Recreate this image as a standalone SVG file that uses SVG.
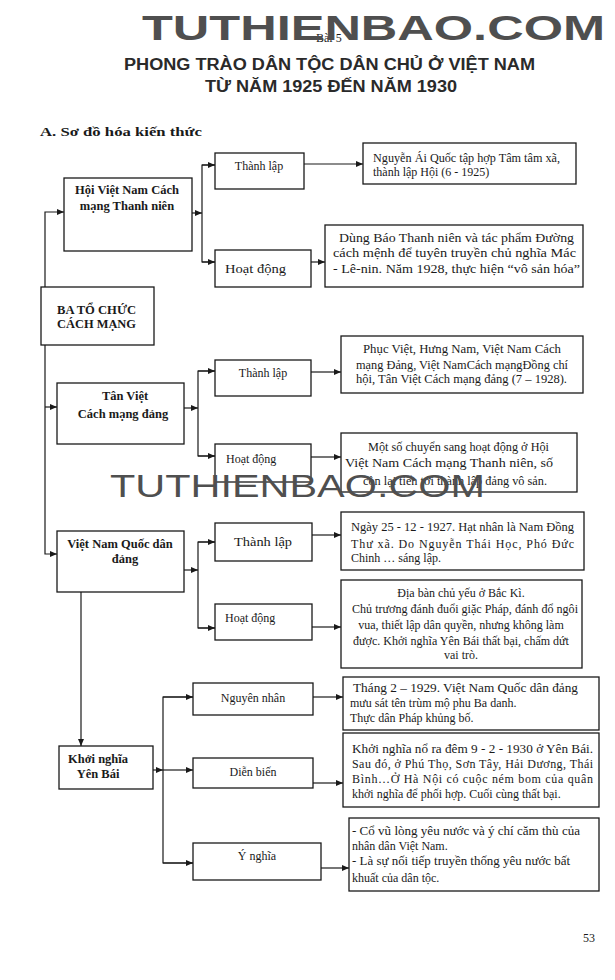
<svg xmlns="http://www.w3.org/2000/svg" width="615" height="980" viewBox="0 0 615 980">
<defs>
<marker id="ah" markerWidth="8" markerHeight="8" refX="7" refY="4" orient="auto" markerUnits="userSpaceOnUse">
<path d="M0,1 L7,4 L0,7 Z" fill="#1a1a1a"/>
</marker>
<style>
.bx{fill:#fff;stroke:#1a1a1a;stroke-width:1.3}
.ln{fill:none;stroke:#1a1a1a;stroke-width:1.2}
.ar{fill:none;stroke:#1a1a1a;stroke-width:1.2;marker-end:url(#ah)}
.t{font-family:"Liberation Serif","Times New Roman",serif;font-size:12px;fill:#1a1a1a}
.tb{font-family:"Liberation Serif","Times New Roman",serif;font-size:12.5px;font-weight:bold;fill:#1a1a1a}
.c{text-anchor:middle}
.wm{font-family:"Liberation Sans",Arial,sans-serif;fill:#4f4f4f}
.ttl{font-family:"Liberation Sans",Arial,sans-serif;font-weight:bold;font-size:16px;fill:#2a2a2a}
</style>
</defs>
<rect width="615" height="980" fill="#fff"/>

<g id="header">
<text x="316" y="42" class="t" font-size="9">Bài 5</text>
<text x="142" y="40" class="wm" font-size="35" font-weight="bold" textLength="463" lengthAdjust="spacingAndGlyphs">TUTHIENBAO.COM</text>
<text x="124" y="70" class="ttl" textLength="411" lengthAdjust="spacingAndGlyphs">PHONG TRÀO DÂN TỘC DÂN CHỦ Ở VIỆT NAM</text>
<text x="205" y="92" class="ttl" textLength="252" lengthAdjust="spacingAndGlyphs">TỪ NĂM 1925 ĐẾN NĂM 1930</text>
<text x="40" y="136" class="tb" font-size="15.5" textLength="162" lengthAdjust="spacingAndGlyphs">A. Sơ đồ hóa kiến thức</text>
</g>

<g id="connectors">
<polyline class="ar" points="45,287 45,212 64,212"/>
<line class="ar" x1="45" y1="407" x2="57" y2="407"/>
<polyline class="ar" points="45,345 45,554 57,554"/>
<line class="ar" x1="192" y1="213" x2="202" y2="213"/>
<polyline class="ln" points="215,165 202,165 202,262 215,262"/>
<line class="ar" x1="202" y1="165" x2="215" y2="165"/>
<line class="ar" x1="202" y1="262" x2="215" y2="262"/>
<line class="ar" x1="304" y1="164" x2="363" y2="164"/>
<line class="ar" x1="311" y1="262" x2="325" y2="262"/>
<line class="ar" x1="184" y1="408" x2="198" y2="408"/>
<polyline class="ln" points="215,371 198,371 198,456 215,456"/>
<line class="ar" x1="198" y1="371" x2="215" y2="371"/>
<line class="ar" x1="198" y1="456" x2="215" y2="456"/>
<line class="ar" x1="311" y1="372" x2="341" y2="372"/>
<line class="ar" x1="311" y1="457" x2="341" y2="457"/>
<line class="ar" x1="184" y1="570" x2="198" y2="570"/>
<polyline class="ln" points="215,542 198,542 198,628 215,628"/>
<line class="ar" x1="198" y1="542" x2="215" y2="542"/>
<line class="ar" x1="198" y1="628" x2="215" y2="628"/>
<line class="ar" x1="312" y1="535" x2="341" y2="535"/>
<line class="ar" x1="312" y1="627" x2="341" y2="627"/>
<line class="ar" x1="81" y1="592" x2="81" y2="746"/>
<line class="ar" x1="153" y1="770" x2="163" y2="770"/>
<polyline class="ln" points="193,697 163,697 163,863 193,863"/>
<line class="ar" x1="163" y1="697" x2="193" y2="697"/>
<line class="ar" x1="163" y1="770" x2="193" y2="770"/>
<line class="ar" x1="163" y1="863" x2="193" y2="863"/>
<line class="ar" x1="313" y1="697" x2="343" y2="697"/>
<line class="ar" x1="313" y1="783" x2="343" y2="783"/>
<line class="ar" x1="321" y1="868" x2="349" y2="868"/>
</g>

<g id="ba-to-chuc">
<rect class="bx" x="41" y="287" width="113" height="58"/>
<text x="57" y="314" class="tb" font-size="12" textLength="79" lengthAdjust="spacingAndGlyphs">BA TỔ CHỨC</text>
<text x="57" y="328" class="tb" font-size="12" textLength="79" lengthAdjust="spacingAndGlyphs">CÁCH MẠNG</text>
</g>

<g id="hoi-vn">
<rect class="bx" x="64" y="178" width="128" height="73"/>
<text x="127" y="194" class="tb c">Hội Việt Nam Cách</text>
<text x="127" y="210" class="tb c">mạng Thanh niên</text>
</g>
<g id="hoi-thanhlap">
<rect class="bx" x="215" y="153" width="89" height="36"/>
<text x="259" y="170" class="t c">Thành lập</text>
</g>
<g id="hoi-hoatdong">
<rect class="bx" x="215" y="250" width="96" height="37"/>
<text x="225" y="273" class="t" font-size="16" textLength="61" lengthAdjust="spacingAndGlyphs">Hoạt động</text>
</g>
<g id="hoi-tl-detail">
<rect class="bx" x="363" y="143" width="213" height="41"/>
<text x="373" y="162" class="t" textLength="187" lengthAdjust="spacingAndGlyphs">Nguyễn Ái Quốc tập hợp Tâm tâm xã,</text>
<text x="373" y="176" class="t">thành lập Hội (6 - 1925)</text>
</g>
<g id="hoi-hd-detail">
<rect class="bx" x="325" y="225" width="258" height="62"/>
<text x="339" y="242" class="t" font-size="13" textLength="235" lengthAdjust="spacingAndGlyphs">Dùng Báo Thanh niên và tác phẩm Đường</text>
<text x="333" y="257" class="t" font-size="13" textLength="243" lengthAdjust="spacingAndGlyphs">cách mệnh để tuyên truyền chủ nghĩa Mác</text>
<text x="333" y="273" class="t" font-size="13" textLength="247" lengthAdjust="spacingAndGlyphs">- Lê-nin. Năm 1928, thực hiện “vô sản hóa”</text>
</g>

<g id="tan-viet">
<rect class="bx" x="57" y="383" width="127" height="61"/>
<text x="125" y="400" class="tb c">Tân Việt</text>
<text x="123" y="418" class="tb c">Cách mạng đảng</text>
</g>
<g id="tv-thanhlap">
<rect class="bx" x="215" y="360" width="96" height="36"/>
<text x="263" y="377" class="t c">Thành lập</text>
</g>
<g id="tv-hoatdong">
<rect class="bx" x="215" y="444" width="96" height="38"/>
<text x="226" y="463" class="t">Hoạt động</text>
</g>
<g id="tv-tl-detail">
<rect class="bx" x="341" y="336" width="242" height="57"/>
<text x="363" y="353" class="t" font-size="11.5" textLength="198" lengthAdjust="spacingAndGlyphs">Phục Việt, Hưng Nam, Việt  Nam  Cách</text>
<text x="356" y="369" class="t" font-size="11.5" textLength="212" lengthAdjust="spacingAndGlyphs">mạng Đảng, Việt NamCách mạngĐồng chí</text>
<text x="356" y="383" class="t" font-size="11.5" textLength="211" lengthAdjust="spacingAndGlyphs">hội, Tân Việt Cách mạng đảng (7 – 1928).</text>
</g>
<g id="tv-hd-detail">
<rect class="bx" x="341" y="433" width="236" height="59"/>
<text x="368" y="451" class="t" textLength="181" lengthAdjust="spacingAndGlyphs">Một số chuyển sang hoạt động ở Hội</text>
<text x="345" y="467" class="t" font-size="13" textLength="208" lengthAdjust="spacingAndGlyphs">Việt Nam Cách mạng Thanh niên, số</text>
<text x="363" y="485" class="t" font-size="11.5" textLength="184" lengthAdjust="spacingAndGlyphs">còn lại tiến tới thành lập đảng vô sản.</text>
</g>

<g id="vnqdd">
<rect class="bx" x="57" y="531" width="127" height="61"/>
<text x="120" y="548" class="tb c">Việt Nam Quốc dân</text>
<text x="125" y="563" class="tb c">đảng</text>
</g>
<g id="qd-thanhlap">
<rect class="bx" x="215" y="523" width="97" height="38"/>
<text x="263" y="546" class="t c" font-size="16" textLength="58" lengthAdjust="spacingAndGlyphs">Thành lập</text>
</g>
<g id="qd-hoatdong">
<rect class="bx" x="215" y="604" width="97" height="36"/>
<text x="225" y="622" class="t">Hoạt động</text>
</g>
<g id="qd-tl-detail">
<rect class="bx" x="341" y="512" width="243" height="58"/>
<text x="351" y="531" class="t" textLength="223" lengthAdjust="spacingAndGlyphs">Ngày 25 - 12 - 1927. Hạt nhân là Nam Đồng</text>
<text x="351" y="548" class="t" textLength="223" lengthAdjust="spacing">Thư xã. Do Nguyễn Thái Học, Phó Đức</text>
<text x="351" y="562" class="t">Chinh … sáng lập.</text>
</g>
<g id="qd-hd-detail">
<rect class="bx" x="341" y="580" width="241" height="88"/>
<text x="461" y="597" class="t c">Địa bàn chủ yếu ở Bắc Kì.</text>
<text x="352" y="613" class="t" textLength="226" lengthAdjust="spacingAndGlyphs">Chủ trương đánh đuổi giặc Pháp, đánh đổ ngôi</text>
<text x="461" y="629" class="t c">vua, thiết lập dân quyền, nhưng không làm</text>
<text x="461" y="645" class="t c">được. Khởi nghĩa Yên Bái thất bại, chấm dứt</text>
<text x="461" y="659" class="t c">vai trò.</text>
</g>

<g id="watermark-mid">
<text x="110" y="497" class="wm" font-size="31" textLength="375" lengthAdjust="spacingAndGlyphs">TUTHIENBAO.COM</text>
</g>

<g id="khoi-nghia">
<rect class="bx" x="59" y="746" width="94" height="43"/>
<text x="98" y="763" class="tb c">Khởi nghĩa</text>
<text x="98" y="778" class="tb c">Yên Bái</text>
</g>
<g id="nguyen-nhan">
<rect class="bx" x="193" y="683" width="120" height="32"/>
<text x="253" y="702" class="t c">Nguyên nhân</text>
</g>
<g id="dien-bien">
<rect class="bx" x="193" y="758" width="120" height="30"/>
<text x="253" y="776" class="t c">Diễn biến</text>
</g>
<g id="y-nghia">
<rect class="bx" x="193" y="843" width="128" height="37"/>
<text x="257" y="860" class="t c">Ý nghĩa</text>
</g>
<g id="nn-detail">
<rect class="bx" x="343" y="677" width="256" height="53"/>
<text x="353" y="692" class="t" textLength="225" lengthAdjust="spacingAndGlyphs">Tháng 2 – 1929. Việt Nam Quốc dân đảng</text>
<text x="350" y="707" class="t" font-size="11.5">mưu sát tên trùm mộ phu Ba danh.</text>
<text x="350" y="722" class="t">Thực dân Pháp khủng bố.</text>
</g>
<g id="db-detail">
<rect class="bx" x="343" y="733" width="256" height="74"/>
<text x="352" y="753" class="t" font-size="12.5" textLength="241" lengthAdjust="spacingAndGlyphs">Khởi nghĩa nổ ra đêm 9 - 2 - 1930 ở Yên Bái.</text>
<text x="352" y="768" class="t" font-size="12.5" textLength="241" lengthAdjust="spacing">Sau đó, ở Phú Thọ, Sơn Tây,  Hải Dương, Thái</text>
<text x="352" y="783" class="t" font-size="12.5" textLength="241" lengthAdjust="spacing">Bình…Ở Hà Nội có cuộc ném bom của quân</text>
<text x="352" y="798" class="t" font-size="12.5">khởi nghĩa để phối hợp. Cuối cùng thất bại.</text>
</g>
<g id="yn-detail">
<rect class="bx" x="349" y="818" width="250" height="73"/>
<text x="352" y="835" class="t" textLength="228" lengthAdjust="spacingAndGlyphs">- Cổ vũ lòng yêu nước và ý chí căm thù của</text>
<text x="352" y="850" class="t">nhân dân Việt Nam.</text>
<text x="352" y="865" class="t" textLength="218" lengthAdjust="spacingAndGlyphs">-  Là sự nối tiếp truyền thống yêu nước bất</text>
<text x="352" y="882" class="t">khuất của dân tộc.</text>
</g>

<text x="583" y="942" class="t" font-size="17">53</text>
</svg>
